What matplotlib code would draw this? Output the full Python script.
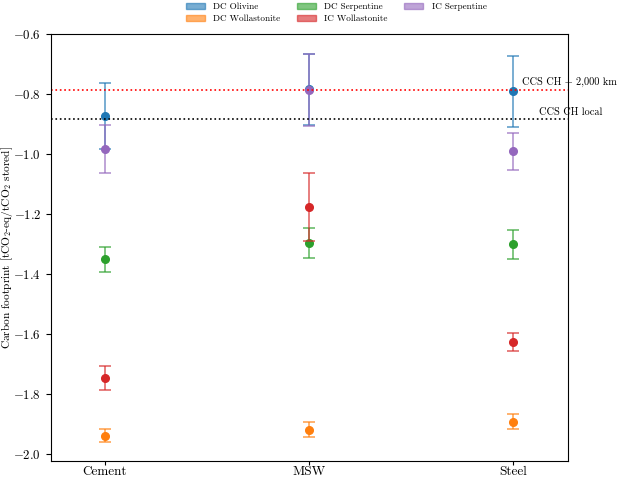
import matplotlib
matplotlib.use("Agg")
import matplotlib.pyplot as plt
import matplotlib.patches as mpatches
import numpy as np

plt.rcParams['font.family'] = 'serif'
plt.rcParams['font.serif'] = ['cmr10', 'DejaVu Serif']
plt.rcParams['mathtext.fontset'] = 'cm'
plt.rcParams['axes.formatter.use_mathtext'] = True

# Data
sites = ['Cement', 'MSW', 'Steel']
series = ['DC Olivine', 'DC Wollastonite', 'DC Serpentine', 'IC Wollastonite', 'IC Serpentine']
colors = ['#1f77b4', '#ff7f0e', '#2ca02c', '#d62728', '#9467bd']

dc_olivine = [-0.873, -0.785, -0.791]
dc_olivine_err = [0.11, 0.12, 0.118]
dc_wollastonite = [-1.939, -1.919, -1.892]
dc_wollastonite_err = [0.021, 0.024, 0.026]
dc_serpentine = [-1.351, -1.297, -1.301]
dc_serpentine_err = [0.042, 0.049, 0.049]
ic_wollastonite = [-1.747, -1.178, -1.628]
ic_wollastonite_err = [0.04, 0.113, 0.03]
ic_serpentine = [-0.983, -0.787, -0.991]
ic_serpentine_err = [0.081, 0.12, 0.061]

values = [dc_olivine, dc_wollastonite, dc_serpentine, ic_wollastonite, ic_serpentine]
errors = [dc_olivine_err, dc_wollastonite_err, dc_serpentine_err, ic_wollastonite_err, ic_serpentine_err]

ccs_far = -0.786
ccs_local = -0.884

fig, ax = plt.subplots(figsize=(6.21, 4.79), dpi=100)
x = np.arange(len(sites))

for vals, errs, c in zip(values, errors, colors):
    ax.errorbar(x, vals, yerr=errs, fmt='none', ecolor=c, alpha=0.6,
                capsize=4.5, elinewidth=1.4, capthick=1.4)
    ax.plot(x, vals, 'o', color=c, markersize=5.5)

ax.axhline(ccs_far, color='red', linestyle=':', linewidth=1.2)
ax.axhline(ccs_local, color='black', linestyle=':', linewidth=1.2)
ax.text(2.045, ccs_far + 0.008, 'CCS CH + 2,000 km', ha='left', va='bottom', fontsize=7.4)
ax.text(2.125, ccs_local + 0.008, 'CCS CH local', ha='left', va='bottom', fontsize=7.4)

ax.set_xticks(x)
ax.set_xticklabels(sites, fontsize=9.5)
ax.tick_params(axis='x', pad=0.5, length=3)
ax.set_xlim(-0.265, 2.27)
ax.set_ylim(-2.023, -0.6)
ax.set_yticks([-2.0, -1.8, -1.6, -1.4, -1.2, -1.0, -0.8, -0.6])
ax.tick_params(axis='y', labelsize=9.2)
ax.set_ylabel(r'Carbon footprint [tCO$_2$-eq/tCO$_2$ stored]', fontsize=8.2)
ax.yaxis.set_label_coords(-0.069, 0.5)

handles = [mpatches.Patch(color=c, alpha=0.6, label=s) for s, c in zip(series, colors)]
fig.legend(handles=handles, loc='center', bbox_to_anchor=(336 / 621, 1 - 13 / 479),
           bbox_transform=fig.transFigure, ncol=3, frameon=False, fontsize=6.6,
           handlelength=2.1, handletextpad=0.9, columnspacing=1.8, labelspacing=0.45)

plt.subplots_adjust(left=0.082, right=0.915, top=0.929, bottom=0.038)
plt.savefig('out.png', dpi=100)
